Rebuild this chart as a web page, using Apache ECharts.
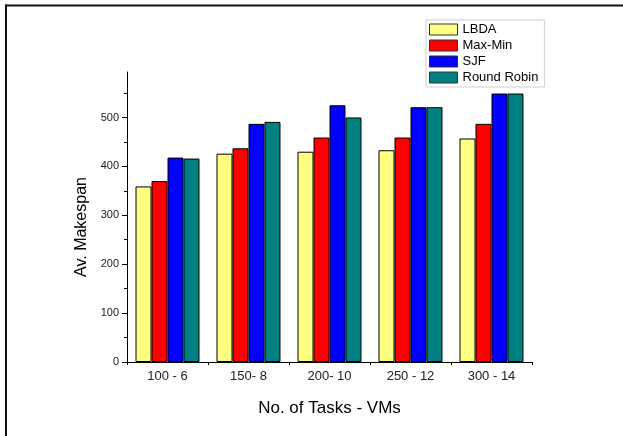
<!DOCTYPE html>
<html>
<head>
<meta charset="utf-8">
<script src="https://cdn.jsdelivr.net/npm/echarts@6/dist/echarts.min.js"></script>
<style>html,body{margin:0;padding:0;background:#fff;}#c{width:623px;height:436px;}</style>
</head>
<body>
<div id="c"></div>
<script>
var categories = ['100 - 6', '150- 8', '200- 10', '250 - 12', '300 - 14'];
var lbda = [359, 426, 430, 433, 457];
var maxMin = [370, 437, 459, 459, 487];
var sjf = [418, 487, 525, 521, 549];
var roundRobin = [416, 491, 500, 521, 549];
var majorTicks = [0, 100, 200, 300, 400, 500];
var minorTicks = [50, 150, 250, 350, 450, 550];

var font = '"Liberation Sans", Arial, sans-serif';
var chart = echarts.init(document.getElementById('c'), null, {renderer: 'canvas'});
function bar(name, data, color) {
  return {
    name: name, type: 'bar', data: data, xAxisIndex: 0, yAxisIndex: 0,
    barGap: '0%', barCategoryGap: '21%',
    itemStyle: {color: color, borderColor: '#000', borderWidth: 1},
    emphasis: {disabled: true}
  };
}
chart.setOption({
  animation: false,
  backgroundColor: '#fff',
  textStyle: {fontFamily: font},
  grid: {left: 127, right: 91, top: 72, bottom: 74},
  legend: {
    orient: 'vertical', left: 426, top: 20,
    itemWidth: 28, itemHeight: 11, itemGap: 3,
    padding: [3, 6, 3, 3],
    borderColor: '#cfcfcf', borderWidth: 1,
    selectedMode: false,
    textStyle: {fontSize: 13, lineHeight: 13, color: '#000', fontFamily: font},
    itemStyle: {borderColor: '#333', borderWidth: 1},
    data: [
      {name: 'LBDA', icon: 'rect'},
      {name: 'Max-Min', icon: 'rect'},
      {name: 'SJF', icon: 'rect'},
      {name: 'Round Robin', icon: 'rect'}
    ]
  },
  xAxis: [{
    type: 'category', data: categories, position: 'bottom',
    name: 'No. of Tasks - VMs', nameLocation: 'middle', nameGap: 38,
    nameTextStyle: {fontSize: 17, color: '#000', fontFamily: font},
    axisLine: {lineStyle: {color: '#000', width: 1}},
    axisTick: {alignWithLabel: true, length: 5, lineStyle: {color: '#000'}},
    axisLabel: {fontSize: 13, color: '#222', margin: 8, fontFamily: font},
    splitLine: {show: false}
  }, {
    type: 'category', data: categories, position: 'bottom', gridIndex: 0,
    axisLine: {show: false},
    axisTick: {show: true, length: 3, lineStyle: {color: '#000'}},
    axisLabel: {show: false},
    splitLine: {show: false}
  }],
  yAxis: [{
    type: 'value', min: 0, max: 593, interval: 100,
    name: 'Av. Makespan', nameLocation: 'middle', nameGap: 33, nameRotate: 90,
    nameTextStyle: {fontSize: 16, color: '#000', fontFamily: font, padding: [0, 20, 0, 0]},
    axisLine: {show: true, lineStyle: {color: '#000', width: 1}},
    axisTick: {show: true, length: 5, customValues: majorTicks, lineStyle: {color: '#000'}},
    axisLabel: {fontSize: 11, color: '#222', margin: 8, customValues: majorTicks, fontFamily: font},
    splitLine: {show: false}
  }, {
    type: 'value', min: 0, max: 593, interval: 100, position: 'left',
    axisLine: {show: false},
    axisTick: {show: true, length: 3, customValues: minorTicks, lineStyle: {color: '#000'}},
    axisLabel: {show: false},
    splitLine: {show: false}
  }],
  series: [
    bar('LBDA', lbda, '#FFFF80'),
    bar('Max-Min', maxMin, '#FF0000'),
    bar('SJF', sjf, '#0000FF'),
    bar('Round Robin', roundRobin, '#008080')
  ],
  graphic: [
    {type: 'line', shape: {x1: 6, y1: 4.5, x2: 6, y2: 436}, style: {stroke: '#111', lineWidth: 2}, silent: true},
    {type: 'line', shape: {x1: 5, y1: 5.5, x2: 623, y2: 5.5}, style: {stroke: '#111', lineWidth: 2}, silent: true}
  ]
});
</script>
</body>
</html>
